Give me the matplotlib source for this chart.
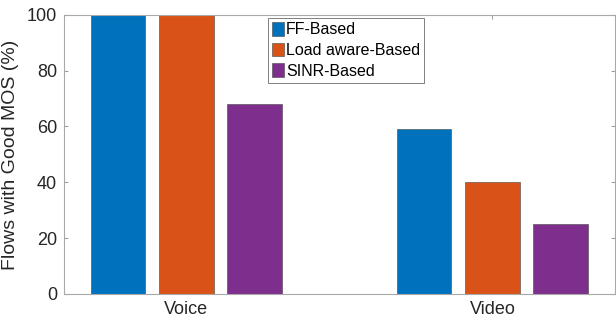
import numpy as np
import matplotlib.pyplot as plt

plt.rcParams['font.family'] = ['Liberation Sans', 'DejaVu Sans']

categories = ['Voice', 'Video']
series = ['FF-Based', 'Load aware-Based', 'SINR-Based']
ff_based = [100, 59]
load_aware = [100, 40]
sinr_based = [68, 25]
colors = ['#0072BD', '#D95319', '#7E2F8E']

fig = plt.figure(figsize=(6.16, 3.23), dpi=100)
ax = fig.add_axes([0.104, 0.09, 0.894, 0.864])

x = np.arange(1, len(categories) + 1)
width = 0.178
offsets = [-0.223, 0, 0.223]
for vals, off, c, name in zip([ff_based, load_aware, sinr_based], offsets, colors, series):
    ax.bar(x + off, vals, width, color=c, edgecolor='#444444', linewidth=0.4, label=name, zorder=2)

ax.set_xlim(0.6, 2.4)
ax.set_ylim(0, 100)
ax.set_xticks(x)
ax.set_xticklabels(categories)
ax.set_yticks([0, 20, 40, 60, 80, 100])
ax.set_ylabel('Flows with Good MOS (%)', fontsize=14, color='#262626', labelpad=6)
ax.tick_params(direction='in', length=3, labelsize=13, colors='#a0a0a0',
               labelcolor='#262626', top=True, right=True)
ax.tick_params(axis='x', pad=5)
ax.tick_params(axis='y', pad=5)
for s in ax.spines.values():
    s.set_color('#a8a8a8')
    s.set_linewidth(0.8)

leg = ax.legend(loc='upper left', bbox_to_anchor=(0.370, 0.989), fontsize=11.5,
                handlelength=0.75, handleheight=0.95, handletextpad=0.15,
                labelspacing=0.33, borderpad=0.25, borderaxespad=0.0,
                fancybox=False, framealpha=1)
leg.get_frame().set_edgecolor('#808080')
leg.get_frame().set_linewidth(0.7)

fig.savefig('out.png', dpi=100)
